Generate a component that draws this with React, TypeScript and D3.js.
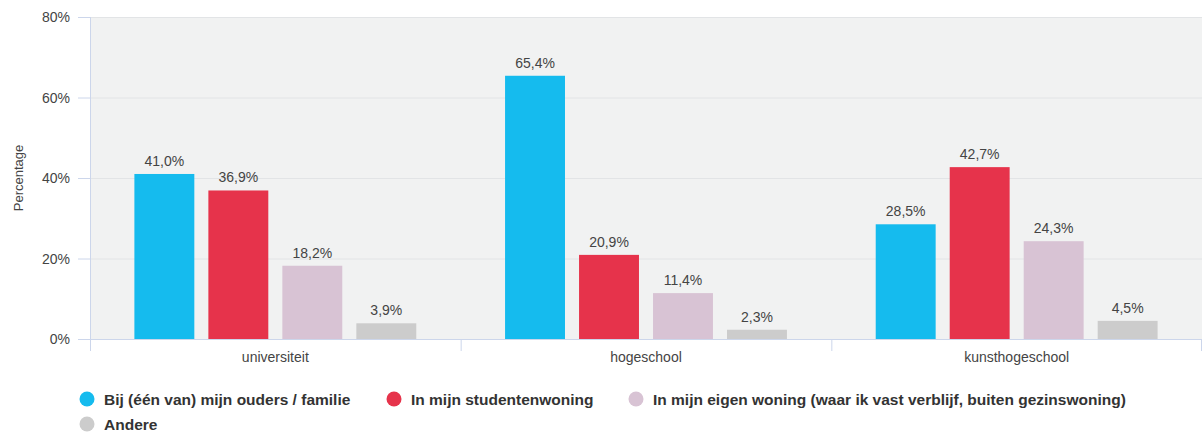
import React, { useEffect, useRef } from 'react'
import * as d3 from 'd3'

const categories = ['universiteit', 'hogeschool', 'kunsthogeschool']
const seriesNames = [
  'Bij (één van) mijn ouders / familie',
  'In mijn studentenwoning',
  'In mijn eigen woning (waar ik vast verblijf, buiten gezinswoning)',
  'Andere',
]
const seriesColors = ['#15bbee', '#e6334b', '#d8c3d4', '#cccccc']
const ouders = [41.0, 65.4, 28.5]
const studentenwoning = [36.9, 20.9, 42.7]
const eigenWoning = [18.2, 11.4, 24.3]
const andere = [3.9, 2.3, 4.5]
const yTicks = [0, 20, 40, 60, 80]

const seriesValues = [ouders, studentenwoning, eigenWoning, andere]

export default function App() {
  const ref = useRef<SVGSVGElement>(null)

  useEffect(() => {
    const W = 1202
    const H = 434
    const margin = { top: 17, right: 0, bottom: 95, left: 90 }
    const plotH = H - margin.top - margin.bottom // 322
    const font = 'Liberation Sans, Arial, sans-serif'
    const svg = d3.select(ref.current)
    svg.selectAll('*').remove()

    const x0 = d3.scaleBand().domain(categories).range([margin.left, W - margin.right]).paddingInner(0).paddingOuter(0)
    const x1 = d3.scaleBand().domain(seriesNames).range([0, x0.bandwidth()]).paddingInner(0.19).paddingOuter(0.6)
    const y = d3.scaleLinear().domain([0, 80]).range([margin.top + plotH, margin.top])

    // plot background
    svg.append('rect')
      .attr('x', margin.left).attr('y', margin.top)
      .attr('width', W - margin.left - margin.right).attr('height', plotH)
      .attr('fill', '#f1f2f2')

    // gridlines
    svg.selectAll('.grid').data(yTicks.slice(1)).enter().append('line')
      .attr('x1', margin.left).attr('x2', W)
      .attr('y1', d => y(d) + 0.5).attr('y2', d => y(d) + 0.5)
      .attr('stroke', '#e2e4e6').attr('stroke-width', 1)

    // y ticks + labels
    svg.selectAll('.ytick').data(yTicks).enter().append('line')
      .attr('x1', margin.left - 12).attr('x2', margin.left)
      .attr('y1', d => y(d) + 0.5).attr('y2', d => y(d) + 0.5)
      .attr('stroke', '#ccd6eb')
    svg.selectAll('.ylabel').data(yTicks).enter().append('text')
      .attr('x', 70).attr('y', d => y(d) + 5)
      .attr('text-anchor', 'end')
      .attr('font-family', font)
      .attr('font-size', 14).attr('fill', '#444')
      .text(d => d + '%')

    svg.append('text')
      .attr('transform', `translate(23,${margin.top + plotH / 2}) rotate(-90)`)
      .attr('text-anchor', 'middle')
      .attr('font-family', font)
      .attr('font-size', 13).attr('fill', '#444')
      .text('Percentage')

    // bars
    const groups = svg.selectAll('.group').data(categories).enter().append('g')
      .attr('transform', d => `translate(${x0(d)},0)`)
    groups.each(function (cat, ci) {
      const g = d3.select(this)
      seriesNames.forEach((s, si) => {
        const v = seriesValues[si][ci]
        g.append('rect')
          .attr('x', x1(s)!).attr('width', x1.bandwidth())
          .attr('y', y(v)).attr('height', y(0) - y(v))
          .attr('fill', seriesColors[si])
        g.append('text')
          .attr('x', x1(s)! + x1.bandwidth() / 2).attr('y', y(v) - 8)
          .attr('text-anchor', 'middle')
          .attr('font-family', font)
          .attr('font-size', 14).attr('fill', '#444')
          .text(v.toFixed(1).replace('.', ',') + '%')
      })
    })

    // axes lines
    svg.append('line')
      .attr('x1', margin.left).attr('x2', W)
      .attr('y1', y(0) + 0.5).attr('y2', y(0) + 0.5)
      .attr('stroke', '#ccd6eb')
    svg.append('line')
      .attr('x1', margin.left + 0.5).attr('x2', margin.left + 0.5)
      .attr('y1', margin.top).attr('y2', y(0) + 12)
      .attr('stroke', '#ccd6eb')
    const bounds = categories.map(c => x0(c)!).concat([W - 1])
    svg.selectAll('.xtick').data(bounds).enter().append('line')
      .attr('x1', d => d + 0.5).attr('x2', d => d + 0.5)
      .attr('y1', y(0)).attr('y2', y(0) + 12)
      .attr('stroke', '#ccd6eb')
    svg.selectAll('.xlabel').data(categories).enter().append('text')
      .attr('x', d => x0(d)! + x0.bandwidth() / 2).attr('y', y(0) + 23)
      .attr('text-anchor', 'middle')
      .attr('font-family', font)
      .attr('font-size', 14).attr('fill', '#444')
      .text(d => d)

    // legend
    const legendPos = [
      { x: 87, y: 405 },
      { x: 394, y: 405 },
      { x: 636, y: 405 },
      { x: 87, y: 430 },
    ]
    const leg = svg.selectAll('.legend').data(seriesNames).enter().append('g')
      .attr('transform', (d, i) => `translate(${legendPos[i].x},${legendPos[i].y})`)
    leg.append('circle').attr('cx', 0).attr('cy', -6).attr('r', 7.5)
      .attr('fill', (d, i) => seriesColors[i])
    leg.append('text').attr('x', 17).attr('y', 0)
      .attr('font-family', font)
      .attr('font-size', 15.5).attr('font-weight', 'bold').attr('fill', '#333')
      .text(d => d)
  }, [])

  return (
    <svg ref={ref} width={1202} height={434}
      style={{ position: 'absolute', left: 0, top: 0, background: '#fff' }} />
  )
}
